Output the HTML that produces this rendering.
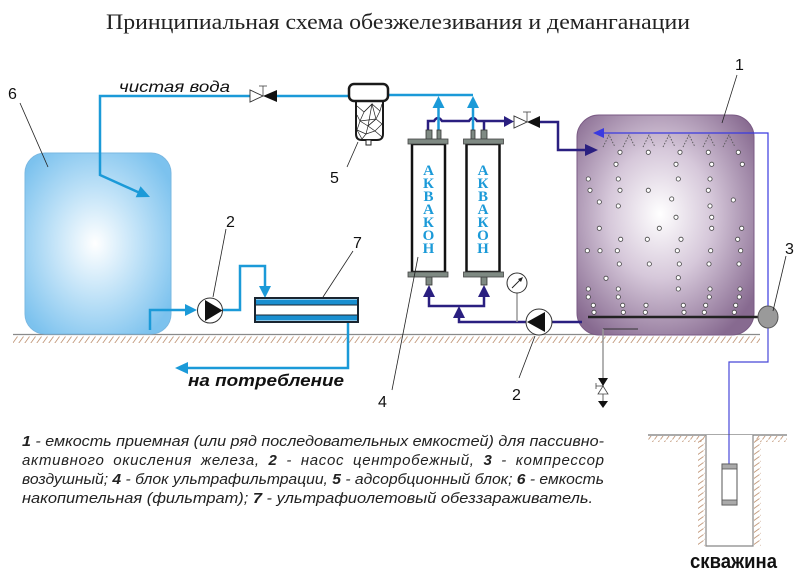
<!DOCTYPE html>
<html><head><meta charset="utf-8"><style>
html,body{margin:0;padding:0;background:#fff;}
svg{display:block;}
</style></head><body>
<svg width="800" height="577" viewBox="0 0 800 577" xmlns="http://www.w3.org/2000/svg">
<defs>
<radialGradient id="g6" cx="0.48" cy="0.5" r="0.62">
<stop offset="0" stop-color="#ffffff"/><stop offset="0.45" stop-color="#c4e4f8"/><stop offset="1" stop-color="#7cc2ee"/>
</radialGradient>
<radialGradient id="g1" cx="0.47" cy="0.45" r="0.65">
<stop offset="0" stop-color="#ffffff"/><stop offset="0.45" stop-color="#d6c8da"/><stop offset="1" stop-color="#876a90"/>
</radialGradient>
<pattern id="hat" width="6" height="8" patternUnits="userSpaceOnUse">
<line x1="0.5" y1="7.5" x2="5.5" y2="0.5" stroke="#c39a7c" stroke-width="0.9"/>
</pattern>
<pattern id="hatv" width="8" height="6" patternUnits="userSpaceOnUse">
<line x1="0.5" y1="5.5" x2="7.5" y2="0.5" stroke="#c39a7c" stroke-width="0.9"/>
</pattern>
</defs>

<!-- title -->
<text x="106" y="29" font-family="Liberation Serif, serif" font-size="22" fill="#222" textLength="584" lengthAdjust="spacingAndGlyphs">Принципиальная схема обезжелезивания и деманганации</text>

<!-- ground -->
<rect x="13" y="336" width="747" height="7" fill="url(#hat)"/>
<line x1="13" y1="334.5" x2="760" y2="334.5" stroke="#8a8a8a" stroke-width="1.2"/>

<!-- tank 6 -->
<rect x="25" y="153" width="146" height="181" rx="20" ry="20" fill="url(#g6)" stroke="#7ab8e2" stroke-width="1"/>

<!-- tank 1 -->
<rect x="577" y="115" width="177" height="220" rx="22" ry="22" fill="url(#g1)" stroke="#7a5a84" stroke-width="1"/>

<!-- spray -->
<g stroke="#555" stroke-width="0.9" stroke-dasharray="1.5,1.5" fill="none">
<polyline points="603,147 609,135 615,147"/>
<polyline points="623,147 629,135 635,147"/>
<polyline points="643,147 649,135 655,147"/>
<polyline points="663,147 669,135 675,147"/>
<polyline points="683,147 689,135 695,147"/>
<polyline points="703,147 709,135 715,147"/>
<polyline points="723,147 729,135 735,147"/>
</g>

<!-- bubbles -->
<g fill="#fff" stroke="#444" stroke-width="0.8">
<circle cx="620" cy="152.3" r="2.1"/><circle cx="648.3" cy="152.3" r="2.1"/><circle cx="680" cy="152.3" r="2.1"/><circle cx="708.3" cy="152.3" r="2.1"/><circle cx="738.3" cy="152.3" r="2.1"/>
<circle cx="616" cy="164.3" r="2.1"/><circle cx="676" cy="164.3" r="2.1"/><circle cx="711.7" cy="164.3" r="2.1"/><circle cx="742.3" cy="164.3" r="2.1"/>
<circle cx="588.3" cy="179" r="2.1"/><circle cx="618.3" cy="179" r="2.1"/><circle cx="678.3" cy="179" r="2.1"/><circle cx="710" cy="179" r="2.1"/>
<circle cx="590" cy="190.3" r="2.1"/><circle cx="620" cy="190.3" r="2.1"/><circle cx="648.3" cy="190.3" r="2.1"/><circle cx="708.3" cy="190.3" r="2.1"/>
<circle cx="599.3" cy="202" r="2.1"/><circle cx="671.7" cy="199" r="2.1"/><circle cx="733.3" cy="200" r="2.1"/><circle cx="618.3" cy="206" r="2.1"/><circle cx="710" cy="206" r="2.1"/>
<circle cx="676" cy="217.3" r="2.1"/><circle cx="711.7" cy="217.3" r="2.1"/>
<circle cx="599.3" cy="228.3" r="2.1"/><circle cx="659.3" cy="228.3" r="2.1"/><circle cx="711.7" cy="228.3" r="2.1"/><circle cx="741.7" cy="228.3" r="2.1"/>
<circle cx="620.7" cy="239.3" r="2.1"/><circle cx="647.3" cy="239.3" r="2.1"/><circle cx="681" cy="239.3" r="2.1"/><circle cx="737.7" cy="239.3" r="2.1"/>
<circle cx="587.3" cy="250.7" r="2.1"/><circle cx="600" cy="250.7" r="2.1"/><circle cx="617.3" cy="250.7" r="2.1"/><circle cx="677.3" cy="250.7" r="2.1"/><circle cx="710.7" cy="250.7" r="2.1"/><circle cx="740.7" cy="250.7" r="2.1"/>
<circle cx="619.3" cy="264" r="2.1"/><circle cx="649.3" cy="264" r="2.1"/><circle cx="679.3" cy="264" r="2.1"/><circle cx="709" cy="264" r="2.1"/><circle cx="739" cy="264" r="2.1"/>
<circle cx="606" cy="278.3" r="2.1"/><circle cx="678.3" cy="277.7" r="2.1"/>
<circle cx="588.3" cy="289" r="2.1"/><circle cx="618.3" cy="289" r="2.1"/><circle cx="678.3" cy="289" r="2.1"/><circle cx="710" cy="289" r="2.1"/><circle cx="740" cy="289" r="2.1"/>
<circle cx="588.3" cy="297" r="2.1"/><circle cx="618.3" cy="297" r="2.1"/><circle cx="709.3" cy="297" r="2.1"/><circle cx="739.3" cy="297" r="2.1"/>
<circle cx="593.3" cy="305.3" r="2.1"/><circle cx="622.7" cy="305.3" r="2.1"/><circle cx="646" cy="305.3" r="2.1"/><circle cx="683.3" cy="305.3" r="2.1"/><circle cx="705.7" cy="305.3" r="2.1"/><circle cx="735.7" cy="305.3" r="2.1"/>
<circle cx="594" cy="312.3" r="2.1"/><circle cx="623.3" cy="312.3" r="2.1"/><circle cx="645.3" cy="312.3" r="2.1"/><circle cx="684" cy="312.3" r="2.1"/><circle cx="704.3" cy="312.3" r="2.1"/><circle cx="734.3" cy="312.3" r="2.1"/>
</g>

<!-- aerator bar -->
<line x1="588" y1="317" x2="760" y2="317" stroke="#222" stroke-width="2.5"/>

<!-- air line -->
<polyline points="603,133 768,133 768,306" fill="none" stroke="#3a3ae0" stroke-width="1.2"/>
<polygon points="593,133 604,128 604,138" fill="#3a3ae0"/>
<polyline points="768,328 768,362 729,362 729,464" fill="none" stroke="#4848d8" stroke-width="1.2"/>
<!-- compressor 3 -->
<ellipse cx="768" cy="317" rx="10" ry="11" fill="#9a9a9a" stroke="#555" stroke-width="1"/>

<!-- drain -->
<line x1="603" y1="329" x2="638" y2="329" stroke="#333" stroke-width="1"/>
<line x1="603" y1="329" x2="603" y2="402" stroke="#999" stroke-width="1.5"/>
<polygon points="598,378 608,378 603,386" fill="#111"/>
<polygon points="598,394 608,394 603,386" fill="#fff" stroke="#444" stroke-width="0.8"/>
<line x1="603" y1="386" x2="596" y2="386" stroke="#444" stroke-width="0.8"/>
<line x1="596" y1="383" x2="596" y2="389" stroke="#444" stroke-width="0.8"/>
<polygon points="598,401 608,401 603,408" fill="#111"/>

<!-- navy pipes -->
<g fill="none" stroke="#2a1f80" stroke-width="2.5">
<path d="M428,130 V121 H434 Q438,115 442,121 H469 Q473,115 477,121 H505"/>
<line x1="484" y1="121" x2="484" y2="130"/>
<polyline points="540,122 558,122 558,150 586,150"/>
<polyline points="429,296 429,306 484,306 484,296"/>
<polyline points="459,317 459,322 526,322"/>
<line x1="552" y1="322" x2="582" y2="322"/>
</g>
<polygon points="504,116 514,121.5 504,127" fill="#2a1f80"/>
<polygon points="585,144 598,150 585,156" fill="#2a1f80"/>
<polygon points="423,297 435,297 429,285" fill="#2a1f80"/>
<polygon points="478,297 490,297 484,285" fill="#2a1f80"/>
<polygon points="453,318 465,318 459,306" fill="#2a1f80"/>

<!-- valve 1 -->
<polygon points="514,116 514,128 527,122" fill="#fff" stroke="#333" stroke-width="0.9"/>
<polygon points="540,116 540,128 527,122" fill="#111"/>
<line x1="527" y1="122" x2="527" y2="112" stroke="#444" stroke-width="0.8"/>
<line x1="523" y1="112" x2="531" y2="112" stroke="#444" stroke-width="0.8"/>

<!-- gauge -->
<line x1="517" y1="293" x2="517" y2="322" stroke="#999" stroke-width="1.5"/>
<circle cx="517" cy="283" r="10" fill="#fff" stroke="#333" stroke-width="1"/>
<line x1="512" y1="288" x2="521" y2="279" stroke="#222" stroke-width="1"/>
<polygon points="523,277 518,279 521,282" fill="#222"/>

<!-- pump 2 right -->
<circle cx="539" cy="322" r="13" fill="#fff" stroke="#333" stroke-width="1"/>
<polygon points="527,322 545,312 545,332" fill="#111"/>

<!-- light blue pipes -->
<g fill="none" stroke="#1b9ad8" stroke-width="2.5">
<polyline points="349,96 277,96"/>
<polyline points="250,96 100,96 100,175 140,193"/>
<polyline points="388,95 473,95"/>
<line x1="438.5" y1="107" x2="438.5" y2="131"/>
<line x1="473" y1="107" x2="473" y2="131"/>
<polyline points="150,330 150,310 186,310"/>
<polyline points="223,310 240,310 240,266 265,266 265,288"/>
<polyline points="348,322 348,368 186,368"/>
</g>
<polygon points="150,197 135.7,197.3 140.5,186.3" fill="#1b9ad8"/>
<polygon points="432.5,108 444.5,108 438.5,96" fill="#1b9ad8"/>
<polygon points="467,108 479,108 473,96" fill="#1b9ad8"/>
<polygon points="197,310 185,304 185,316" fill="#1b9ad8"/>
<polygon points="265,298 259,286 271,286" fill="#1b9ad8"/>
<polygon points="175,368 188,362 188,374" fill="#1b9ad8"/>

<!-- valve 2 -->
<polygon points="250,90 250,102 263,96" fill="#fff" stroke="#333" stroke-width="0.9"/>
<polygon points="277,90 277,102 263,96" fill="#111"/>
<line x1="263" y1="96" x2="263" y2="86" stroke="#444" stroke-width="0.8"/>
<line x1="259" y1="86" x2="267" y2="86" stroke="#444" stroke-width="0.8"/>

<!-- pump 2 left -->
<circle cx="210" cy="310.5" r="12.5" fill="#fff" stroke="#333" stroke-width="1"/>
<polygon points="205,300 205,321 222.5,310.5" fill="#111"/>

<!-- UV 7 -->
<rect x="255" y="298" width="103" height="24" fill="#fff" stroke="#1a2530" stroke-width="2"/>
<rect x="256" y="299.5" width="101" height="5" fill="#1a8fd0"/>
<rect x="256" y="315.5" width="101" height="5" fill="#1a8fd0"/>
<line x1="256" y1="305" x2="357" y2="305" stroke="#1a2530" stroke-width="1"/>
<line x1="256" y1="315" x2="357" y2="315" stroke="#1a2530" stroke-width="1"/>

<!-- filter 5 -->
<path d="M356,101 V134 Q356,140 362,140 H377 Q383,140 383,134 V101 Z" fill="#fff" stroke="#1a1a1a" stroke-width="2"/>
<g stroke="#222" stroke-width="0.7" fill="none">
<polyline points="357,106 364,112 372,104 380,111 382,104"/>
<polyline points="364,112 360,121 368,126 376,119 380,111"/>
<polyline points="357,115 360,121 357,130 366,134 368,126"/>
<polyline points="376,119 382,124 375,131 366,134"/>
<polyline points="372,104 376,119 368,126 375,131 382,137"/>
<polyline points="364,112 372,104 368,126"/>
<polyline points="360,121 376,119"/>
<polyline points="357,130 362,139 366,134"/>
</g>
<rect x="349" y="84" width="39" height="17" rx="5" fill="#fff" stroke="#1a1a1a" stroke-width="2.5"/>
<rect x="366" y="140" width="5" height="5" fill="#fff" stroke="#222" stroke-width="1"/>

<!-- cartridges -->
<g stroke="#333" stroke-width="0.8" fill="#7f8a83">
<rect x="426" y="130" width="6" height="9"/>
<rect x="437" y="130" width="4" height="9"/>
<rect x="471" y="130" width="4" height="9"/>
<rect x="481" y="130" width="6" height="9"/>
<rect x="426" y="277" width="6" height="8"/>
<rect x="481" y="277" width="6" height="8"/>
</g>
<rect x="412" y="144" width="33" height="128" fill="#fff" stroke="#111" stroke-width="2.5"/>
<rect x="466.5" y="144" width="33" height="128" fill="#fff" stroke="#111" stroke-width="2.5"/>
<g fill="#7f8a83" stroke="#444" stroke-width="0.8">
<rect x="408" y="139" width="40" height="5"/>
<rect x="408" y="272" width="40" height="5"/>
<rect x="463.5" y="139" width="40" height="5"/>
<rect x="463.5" y="272" width="40" height="5"/>
</g>
<g font-family="Liberation Serif, serif" font-weight="bold" font-size="15" fill="#1b9ad8" text-anchor="middle">
<text x="428.5" y="175">А</text><text x="428.5" y="188">К</text><text x="428.5" y="201">В</text><text x="428.5" y="214">А</text><text x="428.5" y="227">К</text><text x="428.5" y="240">О</text><text x="428.5" y="253">Н</text>
<text x="483" y="175">А</text><text x="483" y="188">К</text><text x="483" y="201">В</text><text x="483" y="214">А</text><text x="483" y="227">К</text><text x="483" y="240">О</text><text x="483" y="253">Н</text>
</g>

<!-- well -->
<rect x="648" y="436" width="57" height="6" fill="url(#hat)"/>
<rect x="755" y="436" width="32" height="6" fill="url(#hat)"/>
<rect x="698" y="438" width="7" height="108" fill="url(#hatv)"/>
<rect x="754" y="438" width="7" height="108" fill="url(#hatv)"/>
<line x1="648" y1="435" x2="787" y2="435" stroke="#555" stroke-width="1"/>
<polyline points="706,435 706,546 753,546 753,435" fill="#fff" stroke="#888" stroke-width="1.2"/>
<line x1="729" y1="435" x2="729" y2="464" stroke="#4848d8" stroke-width="1.2"/>
<rect x="722" y="464" width="15" height="41" fill="#fff" stroke="#555" stroke-width="1"/>
<rect x="722" y="464" width="15" height="5" fill="#aaa" stroke="#555" stroke-width="0.8"/>
<rect x="722" y="500" width="15" height="5" fill="#aaa" stroke="#555" stroke-width="0.8"/>

<!-- leaders -->
<g stroke="#222" stroke-width="0.8">
<line x1="20" y1="103" x2="48" y2="167"/>
<line x1="226" y1="229" x2="213" y2="297"/>
<line x1="353" y1="251" x2="323" y2="297"/>
<line x1="347" y1="167" x2="358" y2="142"/>
<line x1="392" y1="390" x2="418" y2="257"/>
<line x1="519" y1="378" x2="535" y2="336"/>
<line x1="737" y1="75" x2="722" y2="123"/>
<line x1="786" y1="256" x2="773" y2="311"/>
</g>

<!-- numbers -->
<g font-family="Liberation Sans, sans-serif" font-size="16" fill="#111">
<text x="8" y="99">6</text>
<text x="226" y="227">2</text>
<text x="353" y="248">7</text>
<text x="330" y="183">5</text>
<text x="378" y="407">4</text>
<text x="512" y="400">2</text>
<text x="735" y="70">1</text>
<text x="785" y="254">3</text>
</g>

<!-- labels -->
<text x="119" y="92" font-family="Liberation Sans, sans-serif" font-style="italic" font-size="16" fill="#111" textLength="111" lengthAdjust="spacingAndGlyphs">чистая вода</text>
<text x="188" y="386" font-family="Liberation Sans, sans-serif" font-style="italic" font-weight="bold" font-size="17" fill="#111" textLength="156" lengthAdjust="spacingAndGlyphs">на потребление</text>
<text x="690" y="568" font-family="Liberation Sans, sans-serif" font-weight="bold" font-size="20" fill="#111" textLength="87" lengthAdjust="spacingAndGlyphs">скважина</text>

<!-- legend -->
<g font-family="Liberation Sans, sans-serif" font-style="italic" font-size="15" fill="#222">
<text x="22" y="446" textLength="582" lengthAdjust="spacingAndGlyphs"><tspan font-weight="bold">1</tspan> - емкость приемная (или ряд последовательных емкостей) для пассивно-</text>
<text x="22" y="465" word-spacing="4" textLength="582" lengthAdjust="spacing">активного окисления железа, <tspan font-weight="bold">2</tspan> - насос центробежный, <tspan font-weight="bold">3</tspan> - компрессор</text>
<text x="22" y="484" textLength="582" lengthAdjust="spacingAndGlyphs">воздушный; <tspan font-weight="bold">4</tspan> - блок ультрафильтрации, <tspan font-weight="bold">5</tspan> - адсорбционный блок; <tspan font-weight="bold">6</tspan> - емкость</text>
<text x="22" y="503" textLength="571" lengthAdjust="spacingAndGlyphs">накопительная (фильтрат); <tspan font-weight="bold">7</tspan> - ультрафиолетовый обеззараживатель.</text>
</g>
</svg>
</body></html>
